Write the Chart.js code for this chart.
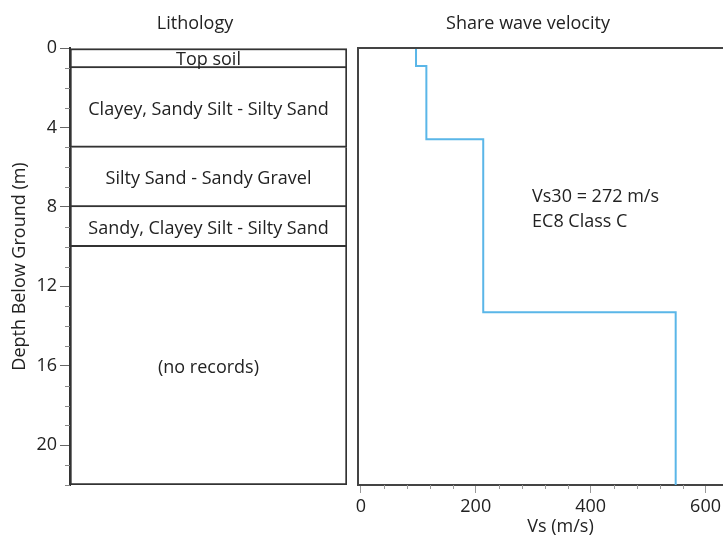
<!DOCTYPE html>
<html>
<head>
<meta charset="utf-8">
<script src="https://cdn.jsdelivr.net/npm/chart.js@4.4.0/dist/chart.umd.min.js"></script>
<style>
html,body{margin:0;padding:0;background:#fff;overflow:hidden;width:723px;height:539px;position:relative}
canvas{position:absolute;top:0}
#litho{left:0}
#vs{left:300px}
</style>
</head>
<body>
<canvas id="litho" width="355" height="539"></canvas>
<canvas id="vs" width="463" height="539"></canvas>
<script>
// Lithology column + shear wave velocity profile
const layerNames = ['Top soil', 'Clayey, Sandy Silt - Silty Sand', 'Silty Sand - Sandy Gravel', 'Sandy, Clayey Silt - Silty Sand', '(no records)'];
const layerTop = [0, 1, 5, 8, 10];
const layerBottom = [1, 5, 8, 10, 22];

const vsTop = [0, 0.9, 4.6, 13.3];
const vsBottom = [0.9, 4.6, 13.3, 22];
const vsValues = [96, 114, 213, 548];

const depthLabelStep = 4;
const vsLabelStep = 200;
const vsMinorStep = 40;
const noteLines = ['Vs30 = 272 m/s', 'EC8 Class C'];
const panelTitles = ['Lithology', 'Share wave velocity'];

const FONT = "'Open Sans', sans-serif";
const FS = 18;
const TXT = '#222';
Chart.defaults.font.family = FONT;
Chart.defaults.font.size = FS;
Chart.defaults.color = TXT;

// ---- left: lithology ----
const layerLabels = {
  id: 'layerLabels',
  afterDatasetsDraw(chart){
    const {ctx, chartArea:a, scales:{y}} = chart;
    ctx.save();
    ctx.font = `${FS}px ${FONT}`;
    ctx.fillStyle = TXT;
    ctx.textAlign = 'center';
    ctx.textBaseline = 'middle';
    layerNames.forEach((n,i)=>{
      ctx.fillText(n, (a.left+a.right)/2, y.getPixelForValue((layerTop[i]+layerBottom[i])/2) + 2);
    });
    ctx.fillText(panelTitles[0], 195, 24);
    // minor depth ticks
    ctx.strokeStyle = '#888';
    ctx.lineWidth = 1;
    for(let d=0; d<=layerBottom[layerBottom.length-1]; d++){
      if(d % depthLabelStep === 0) continue;
      const py = Math.round(y.getPixelForValue(d)) + 0.5;
      ctx.beginPath(); ctx.moveTo(a.left-5, py); ctx.lineTo(a.left, py); ctx.stroke();
    }
    ctx.restore();
  }
};

new Chart(document.getElementById('litho'), {
  type: 'bar',
  data: {
    labels: [''],
    datasets: layerNames.map((n,i)=>({
      label: n,
      data: [[layerTop[i], layerBottom[i]]],
      backgroundColor: '#fff',
      borderColor: '#333',
      borderWidth: { left: 2, right: 2, top: i === 0 ? 2 : 0, bottom: 2 },
      borderSkipped: false,
      grouped: false,
      barPercentage: 1,
      categoryPercentage: 1
    }))
  },
  options: {
    responsive: false,
    animation: false,
    layout: { padding: { top: 48, bottom: 54, right: 8, left: 0 } },
    plugins: { legend: { display: false }, tooltip: { enabled: false } },
    scales: {
      x: { display: false },
      y: {
        reverse: true, min: 0, max: 22,
        afterFit: s => { s.width = 70; },
        ticks: {
          stepSize: 1, autoSkip: false, padding: 3, color: TXT,
          callback: v => v % depthLabelStep === 0 ? v : ''
        },
        grid: {
          drawOnChartArea: false, tickLength: 10, tickWidth: 1,
          tickColor: c => c.tick && c.tick.value % depthLabelStep === 0 ? '#666' : 'rgba(0,0,0,0)'
        },
        border: { display: true, color: '#333', width: 2 },
        title: { display: true, text: 'Depth Below Ground (m)', color: TXT, padding: { top: 9, bottom: 0 } }
      }
    }
  },
  plugins: [layerLabels]
});

// ---- right: shear wave velocity ----
const vsPoints = [];
vsValues.forEach((v,i)=>{
  vsPoints.push({x: v, y: vsTop[i]});
  vsPoints.push({x: v, y: vsBottom[i]});
});

const vsDecor = {
  id: 'vsDecor',
  afterDraw(chart){
    const {ctx, chartArea:a, scales:{x, y}} = chart;
    ctx.save();
    ctx.strokeStyle = '#444';
    ctx.lineWidth = 2;
    ctx.beginPath();
    ctx.moveTo(a.left, a.bottom); ctx.lineTo(a.left, a.top); ctx.lineTo(a.right, a.top);
    ctx.stroke();
    // minor velocity ticks
    ctx.strokeStyle = '#999';
    ctx.lineWidth = 1;
    x.ticks.forEach(t=>{
      if(t.value % vsLabelStep === 0) return;
      const px = Math.round(x.getPixelForValue(t.value)) + 0.5;
      ctx.beginPath(); ctx.moveTo(px, a.bottom); ctx.lineTo(px, a.bottom+4); ctx.stroke();
    });
    ctx.font = `${FS}px ${FONT}`;
    ctx.fillStyle = TXT;
    ctx.textBaseline = 'middle';
    ctx.textAlign = 'center';
    ctx.fillText(panelTitles[1], 528 - 300, 24);
    ctx.textAlign = 'left';
    ctx.fillText(noteLines[0], x.getPixelForValue(298), y.getPixelForValue(7.5));
    ctx.fillText(noteLines[1], x.getPixelForValue(298), y.getPixelForValue(8.76));
    ctx.restore();
  }
};

new Chart(document.getElementById('vs'), {
  type: 'line',
  data: {
    datasets: [{
      label: 'Vs',
      data: vsPoints,
      borderColor: '#5ab6e8',
      borderWidth: 2,
      pointRadius: 0,
      fill: false,
      tension: 0
    }]
  },
  options: {
    responsive: false,
    animation: false,
    layout: { padding: { top: 48, bottom: 0, right: 0, left: 58 } },
    plugins: { legend: { display: false }, tooltip: { enabled: false } },
    scales: {
      x: {
        type: 'linear', min: -5, max: 700,
        afterFit: s => { s.height = 54; },
        afterBuildTicks: s => {
          const t = [];
          for(let v=0; v<=s.max; v+=vsMinorStep) t.push({value: v});
          s.ticks = t;
        },
        ticks: {
          autoSkip: false, maxRotation: 0, padding: 3, color: TXT,
          callback: v => v % vsLabelStep === 0 ? v : ''
        },
        grid: {
          drawOnChartArea: false, tickLength: 8, tickWidth: 1,
          tickColor: c => c.tick && c.tick.value % vsLabelStep === 0 ? '#999' : 'rgba(0,0,0,0)'
        },
        border: { display: true, color: '#444', width: 2 },
        title: { display: true, text: 'Vs (m/s)', color: TXT, padding: { top: 1, bottom: 1 } }
      },
      y: { type: 'linear', reverse: true, min: 0, max: 22, display: false }
    }
  },
  plugins: [vsDecor]
});
</script>
</body>
</html>
